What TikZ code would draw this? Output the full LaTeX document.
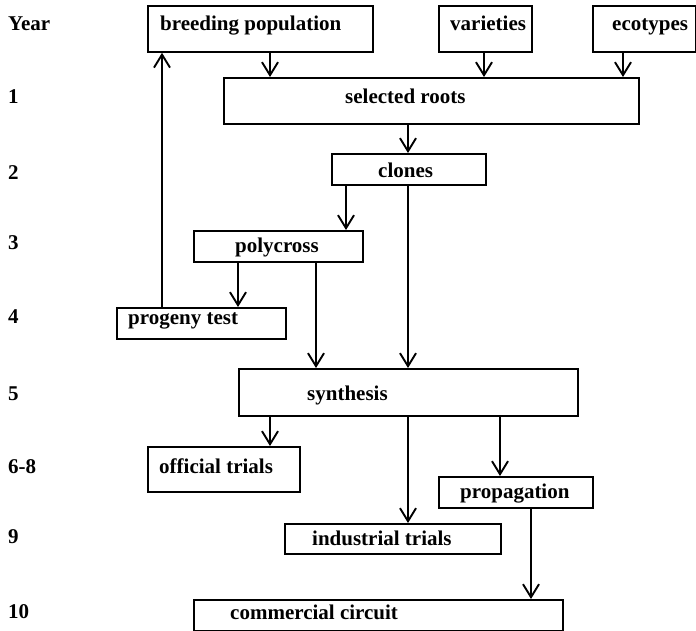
\documentclass[tikz,border=0pt]{standalone}
\usepackage{fontspec}
\setmainfont{Liberation Serif}
\usetikzlibrary{arrows.meta}
\newcommand\mkbox[5]{\node[box, minimum width={(#4-#2)*1pt}, minimum height={(#5-#3)*1pt}] (#1) at (#2,#3) {};}
\begin{document}
\begin{tikzpicture}[x=1pt,y=-1pt,
  box/.style={draw, line width=1.8pt, inner sep=0pt, anchor=north west},
  lbl/.style={anchor=base west, inner sep=0pt, font=\fontsize{21}{25}\selectfont\bfseries},
  arr/.style={line width=1.9pt, -{Straight Barb[length=13pt,width=16pt]}}]
\useasboundingbox (0,0) rectangle (696,631);
% boxes
\mkbox{bp}{147}{5}{372}{51}
\mkbox{var}{438}{5}{531}{51}
\mkbox{eco}{592}{5}{695}{51}
\mkbox{sr}{223}{77}{638}{123}
\mkbox{cl}{331}{153}{485}{184}
\mkbox{pc}{193}{230}{362}{261}
\mkbox{pt}{116}{307}{285}{338}
\mkbox{syn}{238}{368}{577}{415}
\mkbox{off}{147}{446}{299}{491}
\mkbox{prop}{438}{476}{592}{507}
\mkbox{ind}{284}{523}{500}{553}
\mkbox{comm}{193}{599}{562}{630}
% box texts
\node[lbl] (tbp) at (160,31) {breeding population};
\node[lbl] (tvar) at (450,31) {varieties};
\node[lbl] (teco) at (612,31) {ecotypes};
\node[lbl] (tsr) at (345,104) {selected roots};
\node[lbl] (tcl) at (378,178) {clones};
\node[lbl] (tpc) at (235,252) {polycross};
\node[lbl] (tpt) at (128,324) {progeny test};
\node[lbl] (tsyn) at (307,400) {synthesis};
\node[lbl] (toff) at (159,473) {official trials};
\node[lbl] (tprop) at (460,498) {propagation};
\node[lbl] (tind) at (312,545) {industrial trials};
\node[lbl] (tcomm) at (230,619) {commercial circuit};
% year labels
\node[lbl] (y0) at (8,31) {Year};
\node[lbl] (y1) at (8,104) {1};
\node[lbl] (y2) at (8,180) {2};
\node[lbl] (y3) at (8,250) {3};
\node[lbl] (y4) at (8,323) {4};
\node[lbl] (y5) at (8,400) {5};
\node[lbl] (y6) at (8,473) {6-8};
\node[lbl] (y9) at (8,543) {9};
\node[lbl] (y10) at (8,618) {10};
% columns
\foreach \c in {162,238,270,316,346,408,484,500,531,623} {\coordinate (c\c) at (\c,0);}
% connectors
\draw[arr] (bp.south -| c270) -- (sr.north -| c270);
\draw[arr] (var.south -| c484) -- (sr.north -| c484);
\draw[arr] (eco.south -| c623) -- (sr.north -| c623);
\draw[arr] (sr.south -| c408) -- (cl.north -| c408);
\draw[arr] (cl.south -| c346) -- (pc.north -| c346);
\draw[arr] (cl.south -| c408) -- (syn.north -| c408);
\draw[arr] (pc.south -| c238) -- (pt.north -| c238);
\draw[arr] (pc.south -| c316) -- (syn.north -| c316);
\draw[arr] (pt.north -| c162) -- (bp.south -| c162);
\draw[arr] (syn.south -| c270) -- (off.north -| c270);
\draw[arr] (syn.south -| c408) -- (ind.north -| c408);
\draw[arr] (syn.south -| c500) -- (prop.north -| c500);
\draw[arr] (prop.south -| c531) -- (comm.north -| c531);
\end{tikzpicture}
\end{document}
